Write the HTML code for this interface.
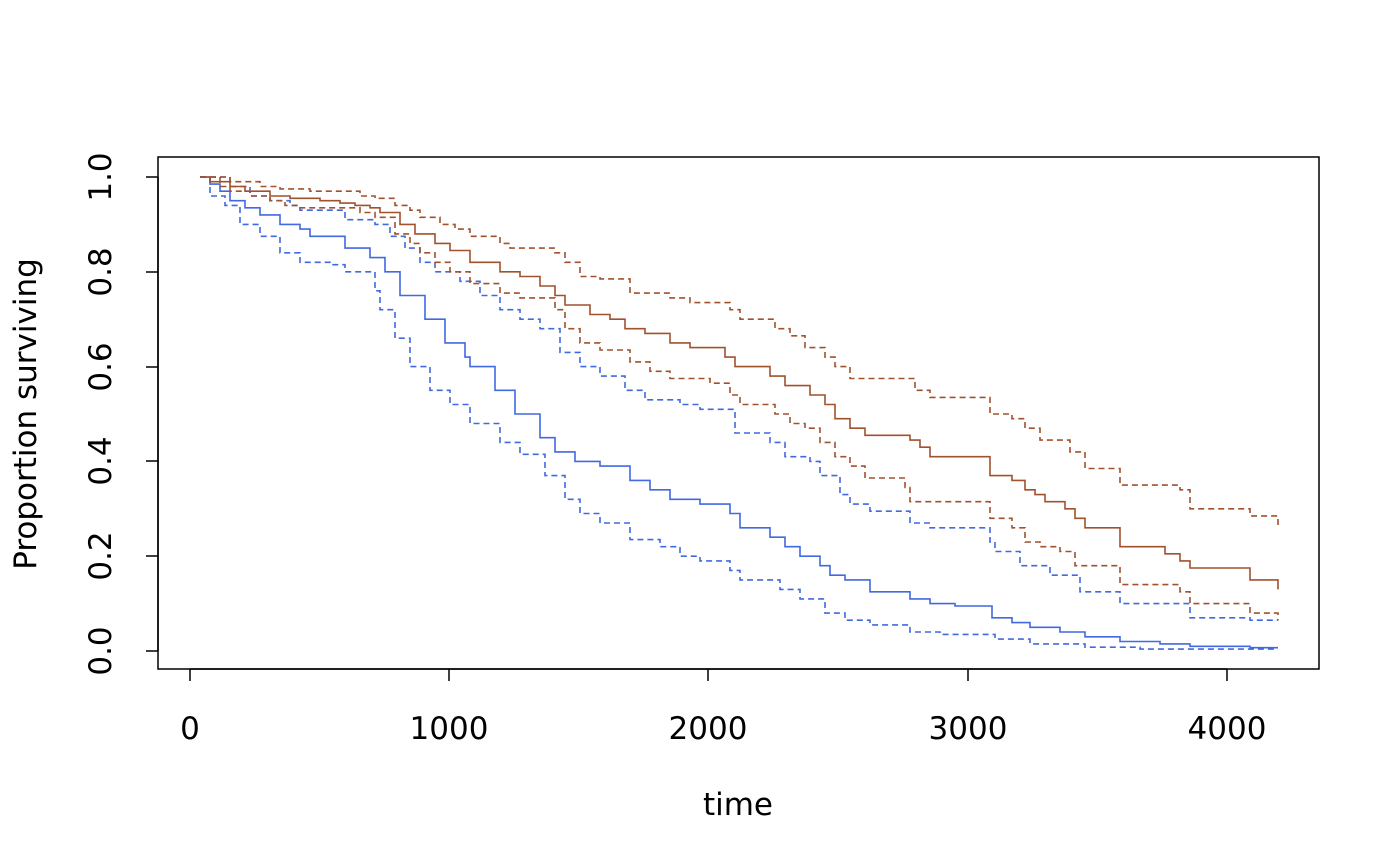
<!DOCTYPE html>
<html><head><meta charset="utf-8"><style>
html,body{margin:0;padding:0;background:#fff}
svg{display:block}
text{font-family:"DejaVu Sans","Liberation Sans",sans-serif;font-size:31px;fill:#000}
</style></head><body>
<svg id="s" width="1400" height="866" viewBox="0 0 1400 866" xmlns="http://www.w3.org/2000/svg">
<rect x="158" y="157" width="1161" height="512" fill="none" stroke="#000" stroke-width="1.5"/>
<g stroke="#000" stroke-width="1.5">
<line x1="190" y1="669" x2="1227" y2="669"/>
<line x1="190" y1="669" x2="190" y2="681"/><line x1="449" y1="669" x2="449" y2="681"/>
<line x1="708" y1="669" x2="708" y2="681"/><line x1="968" y1="669" x2="968" y2="681"/>
<line x1="1227" y1="669" x2="1227" y2="681"/>
<line x1="158" y1="177" x2="158" y2="651"/>
<line x1="158" y1="177" x2="146" y2="177"/><line x1="158" y1="272" x2="146" y2="272"/>
<line x1="158" y1="367" x2="146" y2="367"/><line x1="158" y1="461" x2="146" y2="461"/>
<line x1="158" y1="556" x2="146" y2="556"/><line x1="158" y1="651" x2="146" y2="651"/>
</g>
<g text-anchor="middle">
<text x="190" y="739">0</text><text x="449" y="739">1000</text><text x="708" y="739">2000</text>
<text x="968" y="739">3000</text><text x="1227" y="739">4000</text>
<text x="738" y="815">time</text>
<text transform="translate(111,177) rotate(-90)">1.0</text>
<text transform="translate(111,272) rotate(-90)">0.8</text>
<text transform="translate(111,367) rotate(-90)">0.6</text>
<text transform="translate(111,461) rotate(-90)">0.4</text>
<text transform="translate(111,556) rotate(-90)">0.2</text>
<text transform="translate(111,651) rotate(-90)">0.0</text>
<text transform="translate(36,414) rotate(-90)">Proportion surviving</text>
</g>
<g id="curves" fill="none" stroke-width="1.6"></g>
</svg>
<script>
var S=[
["#4169E1",0,[[200,1],[210,.985],[220,.97],[230,.95],[245,.935],[260,.92],[280,.9],[300,.89],[310,.875],[345,.85],[370,.83],[385,.8],[400,.75],[425,.7],[445,.65],[465,.62],[470,.6],[495,.55],[515,.5],[540,.45],[555,.42],[575,.4],[600,.39],[630,.36],[650,.34],[670,.32],[700,.31],[730,.29],[740,.26],[770,.24],[785,.22],[800,.2],[820,.18],[830,.16],[845,.15],[870,.125],[910,.11],[930,.1],[955,.095],[992,.07],[1012,.06],[1030,.05],[1060,.04],[1085,.03],[1120,.02],[1160,.015],[1190,.01],[1250,.007]]],
["#4169E1",1,[[200,1],[210,.96],[225,.94],[240,.9],[260,.875],[280,.84],[300,.82],[330,.815],[345,.8],[375,.76],[380,.72],[395,.66],[410,.6],[430,.55],[450,.52],[470,.48],[500,.44],[520,.415],[545,.37],[565,.32],[580,.29],[600,.27],[630,.235],[660,.22],[680,.2],[700,.19],[730,.17],[740,.15],[780,.13],[800,.11],[825,.08],[845,.065],[870,.055],[910,.04],[940,.035],[995,.025],[1030,.015],[1085,.008],[1140,.004]]],
["#4169E1",1,[[200,1],[230,.98],[250,.96],[270,.95],[290,.94],[300,.93],[345,.91],[375,.9],[390,.875],[405,.85],[420,.82],[435,.8],[460,.78],[480,.75],[500,.72],[520,.7],[540,.68],[560,.63],[580,.6],[600,.58],[625,.55],[645,.53],[680,.52],[700,.51],[735,.46],[770,.44],[785,.41],[810,.4],[820,.37],[840,.33],[850,.31],[870,.295],[910,.27],[930,.26],[990,.23],[995,.21],[1020,.18],[1050,.16],[1080,.125],[1120,.1],[1190,.07],[1250,.065]]],
["#A0522D",0,[[200,1],[210,.99],[230,.98],[245,.97],[270,.96],[290,.955],[320,.95],[340,.945],[355,.94],[370,.935],[380,.925],[400,.9],[415,.88],[435,.86],[450,.845],[470,.82],[500,.8],[520,.79],[540,.77],[555,.75],[565,.73],[590,.71],[610,.7],[625,.68],[645,.67],[670,.65],[690,.64],[725,.62],[735,.6],[770,.58],[785,.56],[810,.54],[825,.52],[835,.49],[850,.47],[865,.455],[910,.445],[920,.43],[930,.41],[990,.37],[1012,.36],[1025,.34],[1035,.33],[1045,.315],[1065,.3],[1075,.28],[1085,.26],[1120,.22],[1165,.205],[1180,.19],[1190,.175],[1250,.15],[1278,.13]]],
["#A0522D",1,[[200,1],[230,.99],[260,.98],[280,.975],[310,.97],[360,.96],[375,.955],[395,.94],[410,.93],[420,.915],[440,.9],[455,.89],[470,.875],[500,.86],[510,.85],[555,.84],[565,.82],[580,.79],[600,.785],[630,.755],[670,.745],[690,.735],[730,.72],[740,.7],[775,.68],[790,.665],[805,.64],[825,.62],[835,.6],[850,.575],[915,.55],[930,.535],[990,.5],[1012,.49],[1025,.47],[1040,.445],[1070,.42],[1085,.385],[1120,.35],[1180,.34],[1190,.3],[1250,.285],[1278,.265]]],
["#A0522D",1,[[200,1],[220,.98],[230,.97],[250,.96],[270,.95],[285,.94],[300,.935],[360,.925],[375,.915],[395,.88],[410,.86],[420,.84],[435,.82],[450,.8],[470,.775],[500,.755],[520,.745],[555,.72],[565,.68],[580,.65],[600,.635],[630,.61],[650,.59],[670,.575],[710,.565],[730,.54],[740,.52],[775,.5],[790,.48],[805,.47],[820,.44],[835,.41],[850,.39],[865,.365],[905,.345],[910,.315],[990,.28],[1012,.26],[1025,.23],[1040,.22],[1060,.21],[1075,.18],[1120,.14],[1180,.125],[1190,.1],[1250,.08],[1278,.065]]]
];
var g=document.getElementById('curves'),ns="http://www.w3.org/2000/svg";
function Y(s){return (651-474*s).toFixed(1);}
S.forEach(function(c){var p=c[2],d="M"+p[0][0]+" "+Y(p[0][1]);
for(var i=1;i<p.length;i++){d+=" H"+p[i][0]+" V"+Y(p[i][1]);}
if(p[p.length-1][0]<1278)d+=" H1278";
var e=document.createElementNS(ns,"path");e.setAttribute("d",d);e.setAttribute("stroke",c[0]);
if(c[1])e.setAttribute("stroke-dasharray","6,4");g.appendChild(e);});
</script>
</body></html>
